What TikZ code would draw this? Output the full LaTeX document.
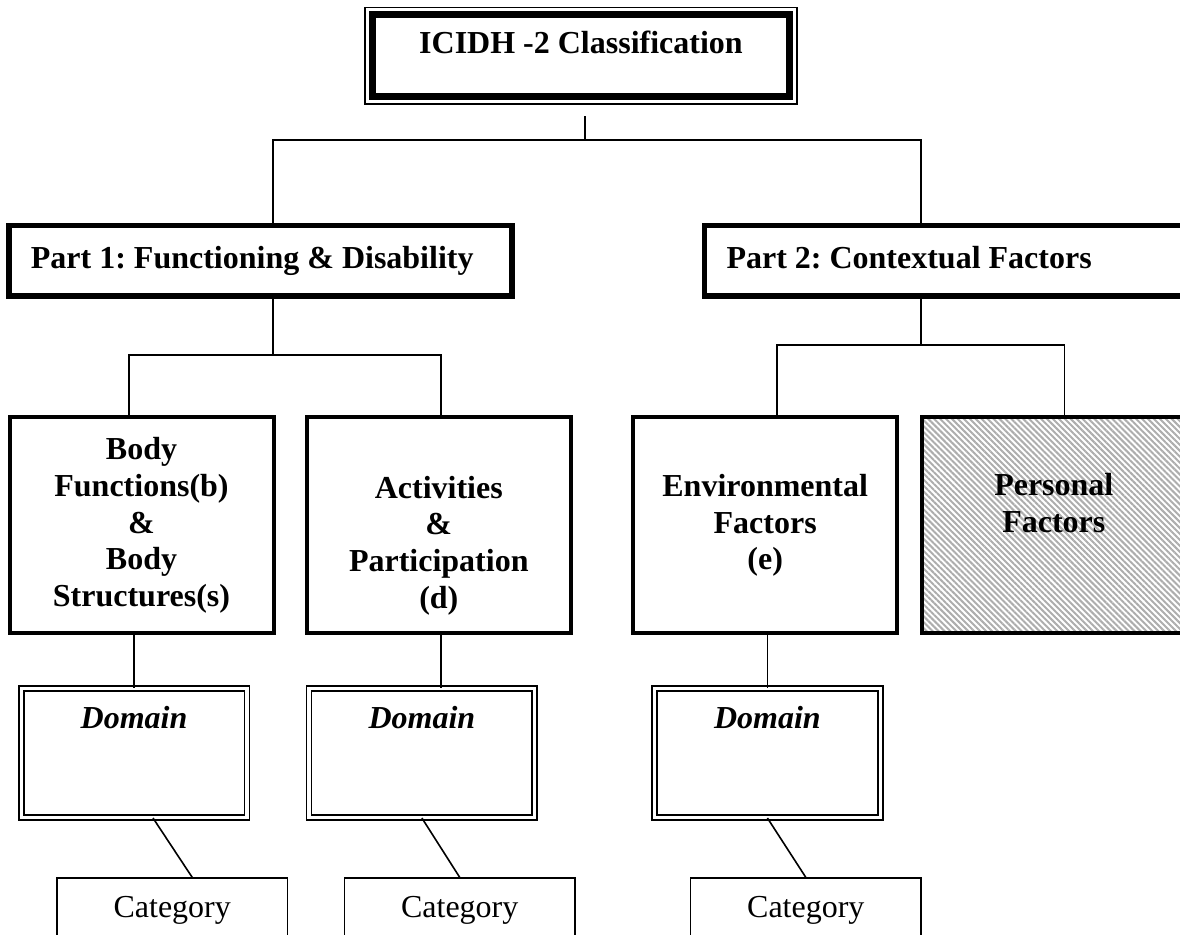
\documentclass[tikz,border=0pt]{standalone}
\usepackage{fontspec}
\setmainfont{Liberation Serif}
\frenchspacing
\usetikzlibrary{positioning}
\usetikzlibrary{patterns.meta}

\begin{document}
\begin{tikzpicture}[x=1pt,y=-1pt,line width=1.6pt]
 \tikzstyle{title node}=[rectangle,draw,line width=7pt,fill=white,
   preaction={draw,line width=16.3pt},preaction={draw=white,line width=13.3pt},
   minimum width=417pt,text height=38.6pt,text depth=43.4pt,inner ysep=0pt,
   font=\fontsize{32}{36.8}\selectfont\bfseries]
 \tikzstyle{part node}=[rectangle,draw,line width=5.5pt,minimum height=70.5pt,
   text width=459pt,inner xsep=22pt,align=flush left,
   text height=21.6pt,text depth=6.9pt,
   font=\fontsize{32}{36.8}\selectfont\bfseries]
 \tikzset{
 	group node/.style={rectangle,draw,line width=4pt,minimum width=264pt,
 	  minimum height=216pt,align=center,font=\fontsize{32}{36.8}\selectfont\bfseries},
 	hatched node/.style={group node,
 	  pattern={Lines[angle=-45,distance=4.2pt,line width=2pt]},pattern color=black!32},
 	domain node/.style={rectangle,draw,double,double distance=3.4pt,line width=1.6pt,
 	  minimum width=225.6pt,text height=40pt,text depth=88.9pt,inner ysep=0pt,
 	  font=\fontsize{32}{36.8}\selectfont\bfseries\itshape},
 	category node/.style={rectangle,draw,line width=1.7pt,minimum width=230.7pt,
 	  text height=39pt,text depth=90pt,inner ysep=0pt,
 	  font=\fontsize{32}{36.8}\selectfont}
 }
 \useasboundingbox (0,0) rectangle (1180,934);
 \clip (0,0) rectangle (1180,934);

       \node[title node] (icidh) at (581,55.7) {ICIDH -2 Classification};

       \node[part node] (part1) at (260.4,260.8) {Part 1: Functioning \& Disability};
       \node[part node] (part2) at (956,260.8) {Part 2: Contextual Factors};

       \node[group node] (body) at (141.5,525.4) {Body\\Functions(b)\\\&\\Body\\Structures(s)};
       \node[group node] (act) [right=29.3pt of body] {\strut\\Activities\\\&\\Participation\\(d)};
       \node[group node] (env) at (765.2,525.4) {Environmental\\Factors\\(e)};
       \node[hatched node] (pers) at (1053.8,525.4) {\strut\\Personal\\Factors\\\strut\\\strut};

       \node[domain node] (dom1) at (134,752.75) {Domain};
       \node[domain node] (dom2) at (421.9,752.75) {Domain};
       \node[domain node] (dom3) at (767.4,752.75) {Domain};

       \node[category node] (cat1) at (172.2,942.7) {Category};
       \node[category node] (cat2) at (459.7,942.7) {Category};
       \node[category node] (cat3) at (805.8,942.7) {Category};

       \coordinate (t0) at (585,140);
       \coordinate (p1) at (273,355);
       \coordinate (p2) at (921,345);

     \draw ([xshift=4pt,yshift=-16pt]icidh.south) -- (t0);
     \draw ([xshift=12.6pt]part1.north) |- (t0) -| ([xshift=-35pt]part2.north);

     \draw ([xshift=12.6pt]part1.south) -- (p1);
     \draw ([xshift=-12.5pt]body.north) |- (p1) -| ([xshift=2.2pt]act.north);
     \draw ([xshift=-35pt]part2.south) -- (p2);
     \draw ([xshift=11.8pt]env.north) |- (p2) -| ([xshift=10.5pt]pers.north);

     \draw (dom1.north) -- (dom1.north |- body.south);
     \draw ([xshift=2.2pt]act.south) -- ([xshift=2.2pt]act.south |- dom2.north);
     \draw (dom3.north) -- (dom3.north |- env.south);

     \draw ([xshift=19pt]dom1.south) -- ([xshift=20pt]cat1.north);
     \draw (dom2.south) -- (cat2.north);
     \draw (dom3.south) -- (cat3.north);
\end{tikzpicture}
\end{document}
